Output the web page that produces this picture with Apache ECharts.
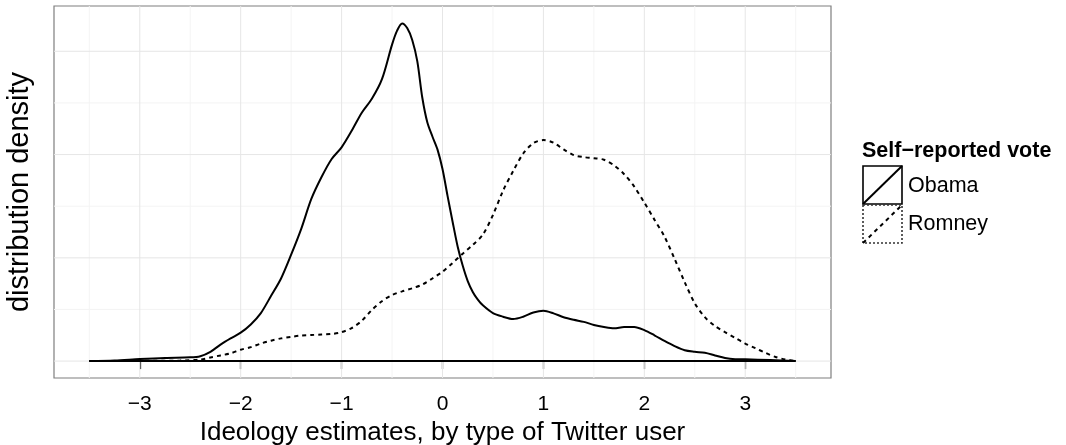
<!DOCTYPE html>
<html>
<head>
<meta charset="utf-8">
<script src="https://cdn.jsdelivr.net/npm/echarts@6/dist/echarts.min.js"></script>
<style>html,body{margin:0;padding:0;background:#fff;}#c{width:1066px;height:445px;}</style>
</head>
<body>
<div id="c"></div>
<script>
// ---- data ----
var obamaX = [-3.5,-3.25,-3.0,-2.75,-2.5,-2.4,-2.3,-2.2,-2.1,-2.0,-1.9,-1.8,-1.7,-1.6,-1.5,-1.4,-1.3,-1.2,-1.1,-1.0,-0.9,-0.8,-0.7,-0.6,-0.5,-0.45,-0.4,-0.35,-0.3,-0.25,-0.2,-0.15,-0.1,-0.05,0.0,0.05,0.1,0.15,0.2,0.25,0.3,0.35,0.4,0.5,0.6,0.7,0.8,0.9,1.0,1.1,1.2,1.3,1.4,1.5,1.6,1.7,1.8,1.9,2.0,2.1,2.2,2.3,2.4,2.5,2.6,2.7,2.8,2.9,3.0,3.25,3.5];
var obamaY = [0,0.001,0.004,0.0062,0.0072,0.0095,0.018,0.032,0.044,0.055,0.071,0.093,0.126,0.16,0.206,0.256,0.314,0.356,0.391,0.414,0.446,0.481,0.508,0.546,0.613,0.64,0.654,0.645,0.622,0.581,0.51,0.462,0.435,0.41,0.372,0.32,0.27,0.222,0.185,0.155,0.134,0.119,0.108,0.093,0.086,0.0815,0.086,0.094,0.0975,0.0925,0.085,0.08,0.076,0.07,0.066,0.0635,0.066,0.066,0.06,0.05,0.039,0.029,0.021,0.018,0.016,0.011,0.006,0.0038,0.0035,0.002,0];
var romneyX = [-3.5,-3.0,-2.6,-2.4,-2.3,-2.2,-2.1,-2.0,-1.9,-1.8,-1.7,-1.6,-1.5,-1.4,-1.3,-1.2,-1.1,-1.0,-0.9,-0.8,-0.7,-0.6,-0.5,-0.4,-0.3,-0.2,-0.1,0.0,0.1,0.2,0.3,0.4,0.5,0.6,0.7,0.8,0.9,1.0,1.1,1.2,1.3,1.4,1.5,1.6,1.7,1.8,1.9,2.0,2.1,2.2,2.3,2.4,2.5,2.6,2.7,2.8,2.9,3.0,3.1,3.2,3.3,3.4,3.5];
var romneyY = [0,0.0005,0.001,0.003,0.007,0.011,0.015,0.022,0.027,0.034,0.0395,0.044,0.047,0.0495,0.0505,0.0515,0.0525,0.056,0.064,0.078,0.099,0.116,0.128,0.135,0.141,0.148,0.16,0.173,0.19,0.208,0.225,0.245,0.283,0.33,0.368,0.402,0.422,0.428,0.423,0.41,0.399,0.395,0.393,0.39,0.379,0.362,0.338,0.307,0.274,0.241,0.198,0.153,0.112,0.085,0.068,0.056,0.045,0.034,0.025,0.016,0.008,0.003,0];
var baselineX = [-3.5, 3.5];
var xTicks = [-3,-2,-1,0,1,2,3];
var xMinorGrid = [-3.5,-2.5,-1.5,-0.5,0.5,1.5,2.5,3.5];
var yMajorGrid = [0,0.2,0.4,0.6];
var yMinorGrid = [0.1,0.3,0.5];
var seriesNames = ['Obama','Romney'];
var legendTitle = 'Self\u2212reported vote';
var xTitle = 'Ideology estimates, by type of Twitter user';
var yTitle = 'distribution density';

var X_MIN = -3.85, X_MAX = 3.85, Y_MIN = -0.03275, Y_MAX = 0.68775;

function pairs(xs, ys){ return xs.map(function(x,i){ return [x, ys[i]]; }); }

var FONT = 'Liberation Sans';
var chart = echarts.init(document.getElementById('c'), null, {renderer:'canvas'});

function gridSeries(){
  var out = [];
  function vline(v, color){
    out.push({type:'line', data:[[v, Y_MIN],[v, Y_MAX]], symbol:'none', silent:true, z:1,
      lineStyle:{color:color, width:1}});
  }
  function hline(v, color){
    out.push({type:'line', data:[[X_MIN, v],[X_MAX, v]], symbol:'none', silent:true, z:1,
      lineStyle:{color:color, width:1}});
  }
  xMinorGrid.forEach(function(v){ vline(v, '#f4f4f4'); });
  yMinorGrid.forEach(function(v){ hline(v, '#f4f4f4'); });
  xTicks.forEach(function(v){ vline(v, '#e6e6e6'); });
  yMajorGrid.forEach(function(v){ hline(v, '#e6e6e6'); });
  return out;
}

var series = gridSeries().concat([
  {type:'line', name:seriesNames[1], data:pairs(romneyX, romneyY), smooth:0.3, symbol:'none', z:3,
   lineStyle:{color:'#000', width:2, type:[4,4]}},
  {type:'line', name:seriesNames[0], data:pairs(obamaX, obamaY), smooth:0.3, symbol:'none', z:4,
   lineStyle:{color:'#000', width:2, type:'solid'}},
  {type:'line', name:'baseline', data:baselineX.map(function(x){return [x,0];}), symbol:'none', z:5,
   lineStyle:{color:'#000', width:2, type:'solid'}}
]);

var option = {
  animation: false,
  backgroundColor: '#ffffff',
  textStyle: {fontFamily: FONT},
  grid: {left:54, top:6, right:235, bottom:67, containLabel:false, outerBoundsMode:'none',
    show:true, borderColor:'#7f7f7f', borderWidth:1.2, backgroundColor:'#ffffff'},
  xAxis: {
    type:'value', min:X_MIN, max:X_MAX,
    axisLine:{show:false},
    splitLine:{show:false},
    axisTick:{show:true, customValues:xTicks, length:8, lineStyle:{color:'#333333', width:1.3}},
    axisLabel:{customValues:xTicks, margin:16, color:'#000', fontSize:21, fontFamily:FONT,
      formatter:function(v){ return v < 0 ? '\u2212' + Math.abs(v) : String(v); }},
    name: xTitle, nameLocation:'middle', nameGap:40,
    nameTextStyle:{color:'#000', fontSize:26, fontFamily:FONT}
  },
  yAxis: {
    type:'value', min:Y_MIN, max:Y_MAX,
    axisLine:{show:false}, axisTick:{show:false}, axisLabel:{show:false}, splitLine:{show:false},
    name: yTitle, nameLocation:'middle', nameGap:20, nameRotate:90,
    nameTextStyle:{color:'#000', fontSize:29, fontFamily:FONT}
  },
  series: series,
  graphic: [
    {type:'text', x:862, y:151, style:{text:legendTitle, fill:'#000', font:'bold 21.5px "Liberation Sans"', textVerticalAlign:'middle'}},
    {type:'rect', shape:{x:863, y:166, width:39, height:38}, style:{fill:'#fff', stroke:'#000', lineWidth:1.6}},
    {type:'line', shape:{x1:863, y1:204, x2:902, y2:166}, style:{stroke:'#000', lineWidth:2}},
    {type:'rect', shape:{x:863, y:205, width:39, height:38}, style:{fill:'#fff', stroke:'#333', lineWidth:1.6, lineDash:[2,2]}},
    {type:'line', shape:{x1:863, y1:243, x2:902, y2:205}, style:{stroke:'#000', lineWidth:2, lineDash:[4,4]}},
    {type:'text', x:908, y:186, style:{text:seriesNames[0], fill:'#000', font:'21.5px "Liberation Sans"', textVerticalAlign:'middle'}},
    {type:'text', x:908, y:224, style:{text:seriesNames[1], fill:'#000', font:'21.5px "Liberation Sans"', textVerticalAlign:'middle'}}
  ]
};
chart.setOption(option);
</script>
</body>
</html>
